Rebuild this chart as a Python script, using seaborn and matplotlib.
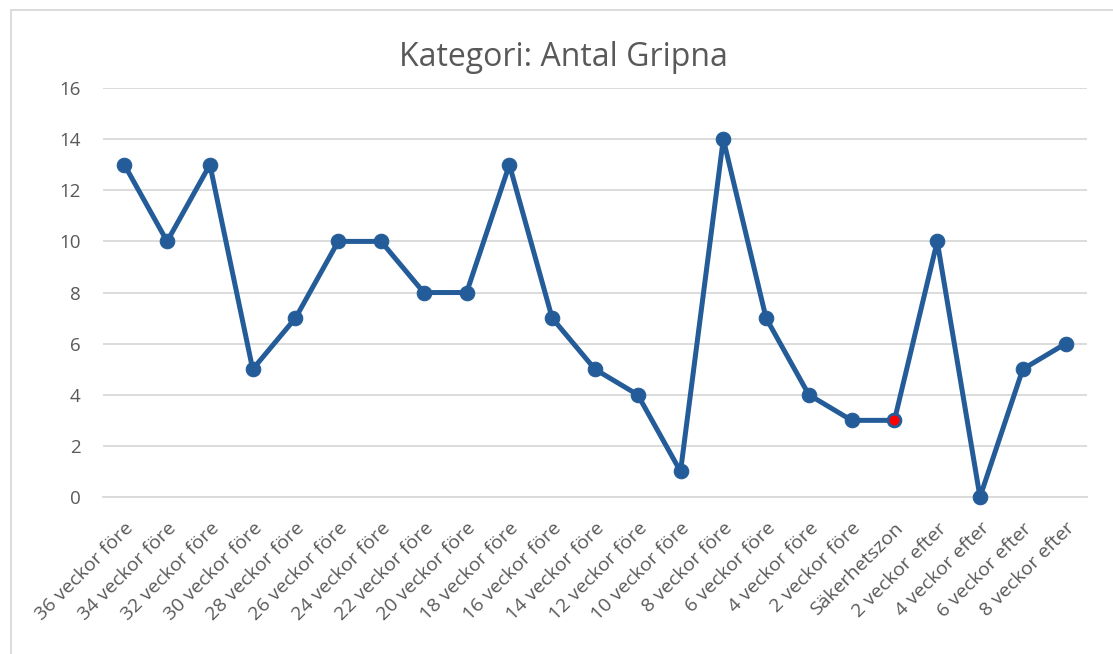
import matplotlib
matplotlib.use("Agg")
import matplotlib.pyplot as plt
import seaborn as sns
from matplotlib.lines import Line2D

categories = ["36 veckor före", "34 veckor före", "32 veckor före", "30 veckor före",
              "28 veckor före", "26 veckor före", "24 veckor före", "22 veckor före",
              "20 veckor före", "18 veckor före", "16 veckor före", "14 veckor före",
              "12 veckor före", "10 veckor före", "8 veckor före", "6 veckor före",
              "4 veckor före", "2 veckor före", "Säkerhetszon", "2 veckor efter",
              "4 veckor efter", "6 veckor efter", "8 veckor efter"]
values = [13, 10, 13, 5, 7, 10, 10, 8, 8, 13, 7, 5, 4, 1, 14, 7, 4, 3, 3, 10, 0, 5, 6]
highlight_category = ["Säkerhetszon"]
highlight_value = [3]
yticks = [0, 2, 4, 6, 8, 10, 12, 14, 16]
title = "Kategori: Antal Gripna"

sns.set_theme(style="white")
plt.rcParams['font.family'] = ['Open Sans', 'DejaVu Sans']

blue = "#235C98"
gray = "#595959"

fig = plt.figure(figsize=(11.13, 6.54), dpi=100)
ax = fig.add_axes([0.0925, 0.240, 0.8841, 0.6254])

sns.lineplot(x=categories, y=values, sort=False, color=blue, linewidth=3.6,
             marker="o", markersize=10.5, markeredgecolor=blue, markerfacecolor=blue,
             ax=ax, zorder=3)
sns.scatterplot(x=highlight_category, y=highlight_value, color="#FF0000", s=75,
                edgecolor=blue, linewidth=1.5, ax=ax, zorder=4)

ax.set_xlim(-0.5, len(categories) - 0.5)
ax.set_ylim(0, 16)
ax.set_yticks(yticks)
ax.set_yticklabels([str(t) for t in yticks], color=gray, fontsize=13.5)
ax.yaxis.grid(True, color="#D9D9D9", linewidth=1.3)
ax.xaxis.grid(False)
for s in ax.spines.values():
    s.set_visible(False)
ax.spines['bottom'].set_visible(True)
ax.spines['bottom'].set_color("#D9D9D9")
ax.spines['bottom'].set_linewidth(1.3)
ax.tick_params(axis='y', length=0, pad=16)
ax.tick_params(axis='x', length=0, pad=16)
ax.set_xticks(range(len(categories)))
ax.set_xticklabels(categories, rotation=45, ha='right', rotation_mode='anchor',
                   color=gray, fontsize=14)
ax.set_xlabel("")
ax.set_ylabel("")
for ln in ax.lines:
    ln.set_clip_on(False)
for c in ax.collections:
    c.set_clip_on(False)

fig.text(0.5065, 0.912, title, ha='center', va='center', fontsize=23, color=gray)

# chart frame (left and top edges visible)
fig.add_artist(Line2D([0.0095, 0.0095], [0.0, 0.984], color="#D9D9D9", linewidth=1.3,
                      transform=fig.transFigure))
fig.add_artist(Line2D([0.0095, 1.0], [0.984, 0.984], color="#D9D9D9", linewidth=1.3,
                      transform=fig.transFigure))

fig.savefig("out.png", dpi=100, facecolor="white")
